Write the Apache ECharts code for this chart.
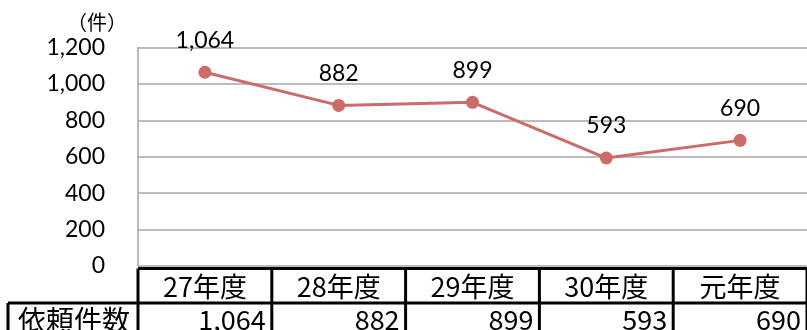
<!DOCTYPE html>
<html>
<head>
<meta charset="utf-8">
<script src="https://cdn.jsdelivr.net/npm/echarts@6/dist/echarts.min.js"></script>
<style>
  html, body { margin: 0; padding: 0; background: #fff; }
  #chart { width: 807px; height: 330px; }
</style>
</head>
<body>
<div id="chart"></div>
<script>
// 年度別の依頼件数
const categories = ['27年度', '28年度', '29年度', '30年度', '元年度'];
const counts = [1064, 882, 899, 593, 690];
const rowLabel = '依頼件数';
const unitLabel = '（件）';
const yTicks = { min: 0, max: 1200, interval: 200 };

const latin = 'Lato, "Open Sans", sans-serif';
const cjk = '"Noto Sans CJK JP", sans-serif';
const fmt = v => v.toLocaleString('en-US');

const chart = echarts.init(document.getElementById('chart'), null, { renderer: 'canvas' });

const gridLeft = 138, gridWidth = 672, gridTop = 47.5, gridBottomY = 266;

chart.setOption({
  animation: false,
  backgroundColor: '#ffffff',
  grid: { left: gridLeft, top: gridTop, width: gridWidth, height: gridBottomY - gridTop, containLabel: false },
  xAxis: {
    type: 'category',
    data: categories,
    boundaryGap: true,
    axisLine: { show: false },
    axisTick: { show: false },
    axisLabel: { show: false },
    splitLine: { show: false }
  },
  yAxis: {
    type: 'value',
    min: yTicks.min, max: yTicks.max, interval: yTicks.interval,
    axisLine: { show: true, lineStyle: { color: '#a6a6a6', width: 1.5 } },
    axisTick: { show: false },
    splitLine: { show: true, lineStyle: { color: '#a6a6a6', width: 1.5 } },
    axisLabel: {
      fontFamily: latin, fontSize: 23, color: '#000', margin: 33,
      formatter: v => fmt(v)
    }
  },
  series: [{
    type: 'line',
    data: counts,
    symbol: 'circle',
    symbolSize: 13,
    lineStyle: { color: '#cd6b69', width: 3 },
    itemStyle: { color: '#cd6b69' },
    label: {
      show: true, position: 'top', distance: 14,
      fontFamily: latin, fontSize: 23, color: '#000',
      formatter: p => fmt(p.value)
    }
  }]
});

// 下部の表（年度・件数）
function drawTable() {
  const centers = categories.map(c => chart.convertToPixel({ xAxisIndex: 0 }, c));
  const step = centers.length > 1 ? centers[1] - centers[0] : gridWidth;
  const left = centers[0] - step / 2;
  const right = 812;
  const topY = 268.5, midY = 303, bottomY = 340;
  const labelLeft = 8;
  const black = { stroke: '#000', lineWidth: 3 };
  const els = [];
  const hline = (x1, x2, y) => els.push({ type: 'line', shape: { x1, y1: y, x2, y2: y }, style: black, silent: true });
  const vline = (x, y1, y2) => els.push({ type: 'line', shape: { x1: x, y1, x2: x, y2 }, style: black, silent: true });

  hline(left, right, topY);
  hline(labelLeft, right, midY);
  vline(labelLeft, midY, bottomY);
  vline(left, topY, bottomY);
  centers.forEach(cx => vline(cx + step / 2, topY, bottomY));

  els.push({
    type: 'text', silent: true,
    style: { x: (labelLeft + left) / 2 + 1, y: (midY + 331) / 2 + 3, text: rowLabel,
      font: '28px ' + cjk, fill: '#000', align: 'center', verticalAlign: 'middle' }
  });
  centers.forEach((cx, i) => {
    els.push({
      type: 'text', silent: true,
      style: { x: cx, y: (topY + midY) / 2 + 1, text: categories[i],
        font: '27px ' + cjk, fill: '#000', align: 'center', verticalAlign: 'middle' }
    });
    els.push({
      type: 'text', silent: true,
      style: { x: cx + step / 2 - 6, y: (midY + 331) / 2 + 3, text: fmt(counts[i]),
        font: '27px ' + cjk, fill: '#000', align: 'right', verticalAlign: 'middle' }
    });
  });

  els.push({
    type: 'text', silent: true,
    style: { x: 97, y: 22, text: unitLabel,
      font: '20px ' + cjk, fill: '#000', align: 'center', verticalAlign: 'middle' }
  });

  chart.setOption({ graphic: { elements: els } });
}
drawTable();
</script>
</body>
</html>
